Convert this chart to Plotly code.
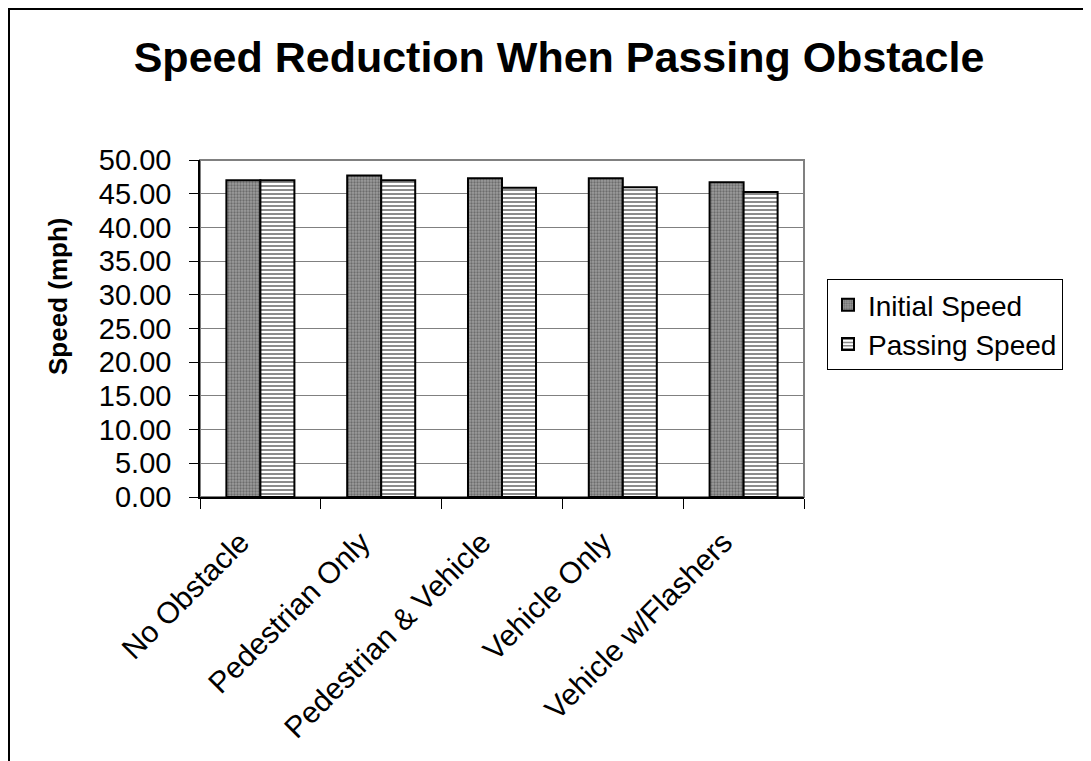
import plotly.graph_objects as go

categories = ["No Obstacle", "Pedestrian Only", "Pedestrian & Vehicle", "Vehicle Only", "Vehicle w/Flashers"]
initial_speed = [47.0, 47.7, 47.3, 47.3, 46.7]
passing_speed = [47.0, 47.0, 45.9, 45.95, 45.25]
y_ticks = [0, 5, 10, 15, 20, 25, 30, 35, 40, 45, 50]

FONT = "Liberation Sans, Arial, Helvetica, sans-serif"

# page body has an 8px default margin; positions below are target page pixels minus that offset
OFF = 8
W, H = 1091, 761
L, R, T, B = 200 - OFF, 804 - OFF, 160 - OFF, 497 - OFF

fig = go.Figure()
fig.add_trace(go.Bar(
    name="Initial Speed", x=categories, y=initial_speed,
    marker=dict(color="#909090", line=dict(color="black", width=2),
                pattern=dict(shape=".", fgcolor="#3c3c3c", bgcolor="#9c9c9c", size=3, solidity=0.45)),
))
fig.add_trace(go.Bar(
    name="Passing Speed", x=categories, y=passing_speed,
    marker=dict(color="white", line=dict(color="black", width=2),
                pattern=dict(shape="-", fgcolor="black", bgcolor="white", size=4, solidity=0.45)),
))

pw = R - L
ph = B - T

def px_x(p):
    return (p - OFF - L) / pw

def px_y(p):
    return (B - (p - OFF)) / ph

fig.update_layout(
    width=W, height=H,
    margin=dict(l=L, r=W - R, t=T, b=H - B, pad=0),
    paper_bgcolor="white", plot_bgcolor="white",
    barmode="group", bargap=0.437, bargroupgap=0,
    font=dict(family=FONT, color="black", size=28),
    title=dict(text="<b>Speed Reduction When Passing Obstacle</b>",
               font=dict(family=FONT, size=43, color="black"),
               x=(559 - OFF) / W, xanchor="center", y=1 - (57 - OFF) / H, yanchor="middle"),
    legend=dict(x=px_x(827), xanchor="left", y=px_y(279), yanchor="top",
                bordercolor="black", borderwidth=1, bgcolor="white",
                font=dict(family=FONT, size=28, color="black"),
                traceorder="normal", itemsizing="constant", tracegroupgap=0),
    showlegend=True,
    shapes=[
        dict(type="rect", xref="paper", yref="paper", x0=0, x1=1, y0=0, y1=1,
             line=dict(color="#808080", width=2), layer="below"),
        dict(type="rect", xref="paper", yref="paper",
             x0=px_x(OFF + 1), x1=px_x(1300), y0=px_y(1000), y1=px_y(OFF + 1),
             line=dict(color="black", width=2), fillcolor="rgba(0,0,0,0)", layer="above"),
    ],
    annotations=[
        dict(text="<b>Speed (mph)</b>", xref="paper", yref="paper",
             x=px_x(58), y=px_y(297), xanchor="center", yanchor="middle",
             textangle=-90, showarrow=False,
             font=dict(family=FONT, size=26, color="black")),
    ],
)

fig.update_xaxes(
    type="category", showline=True, linecolor="black", linewidth=1.5,
    ticks="outside", tickson="boundaries", ticklen=10, tickcolor="black", tickwidth=1,
    tickangle=-45, tickfont=dict(family=FONT, size=30, color="black"),
    ticklabelstandoff=14, ticklabelshift=-20,
    showgrid=False, zeroline=False,
)
fig.update_yaxes(
    range=[0, 50], tickvals=y_ticks, tickformat=".2f",
    showline=True, linecolor="black", linewidth=1.5,
    ticks="outside", ticklen=9, tickcolor="black", tickwidth=1,
    ticklabelstandoff=12,
    showgrid=True, gridcolor="#808080", gridwidth=1.2, zeroline=False,
    tickfont=dict(family=FONT, size=29, color="black"),
)

fig.write_html("out.html")
